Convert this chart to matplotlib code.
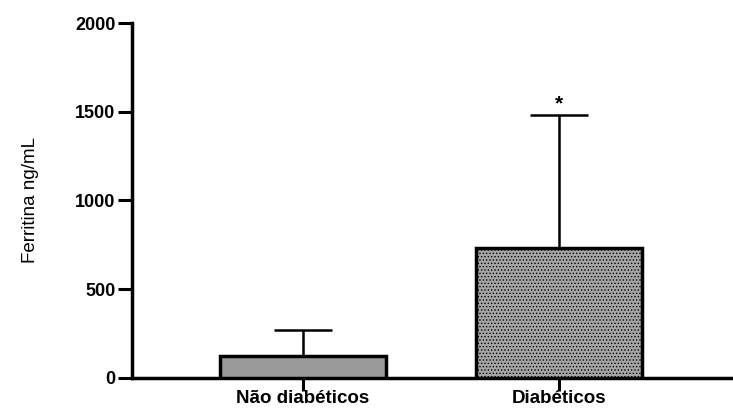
import matplotlib.pyplot as plt
import numpy as np

plt.rcParams['font.family'] = ['Liberation Sans', 'DejaVu Sans']
plt.rcParams['hatch.linewidth'] = 0.6

groups = ['Não diabéticos', 'Diabéticos']
means = [122, 730]
sds = [150, 750]
signif = ['', '*']

fig = plt.figure(figsize=(7.33, 4.12), dpi=100)
ax = fig.add_axes([0.18, 0.083, 0.82, 0.861])

x = np.arange(len(groups))
bars = ax.bar(x, means, width=0.65, color=['#9a9a9a', '#a6a6a6'],
              edgecolor='black', linewidth=2.5, zorder=3)
bars[1].set_hatch('.....')

ax.errorbar(x, means, yerr=[np.zeros(len(x)), sds], fmt='none',
            ecolor='black', elinewidth=1.8, capsize=21, capthick=1.8,
            zorder=2)

for xi, m, s, lab in zip(x, means, sds, signif):
    if lab:
        ax.text(xi, m + s + 10, lab, ha='center', va='bottom',
                fontsize=15, fontweight='bold')

ax.set_xlim(-0.668, 1.68)
ax.set_ylim(0, 2000)
ax.set_yticks([0, 500, 1000, 1500, 2000])
ax.set_xticks(x)
ax.set_xticklabels(groups, fontsize=13.5, fontweight='bold')
ax.set_ylabel('Ferritina ng/mL', fontsize=13.5, labelpad=26)
for lbl in ax.get_yticklabels():
    lbl.set_fontweight('bold')
    lbl.set_fontsize(13)

ax.spines['top'].set_visible(False)
ax.spines['right'].set_visible(False)
ax.spines['left'].set_linewidth(2.5)
ax.spines['bottom'].set_linewidth(2.5)
ax.tick_params(axis='both', direction='out', length=10, width=2.2, pad=2)
ax.tick_params(axis='x', length=9, pad=0)

plt.savefig('out.png', dpi=100)
